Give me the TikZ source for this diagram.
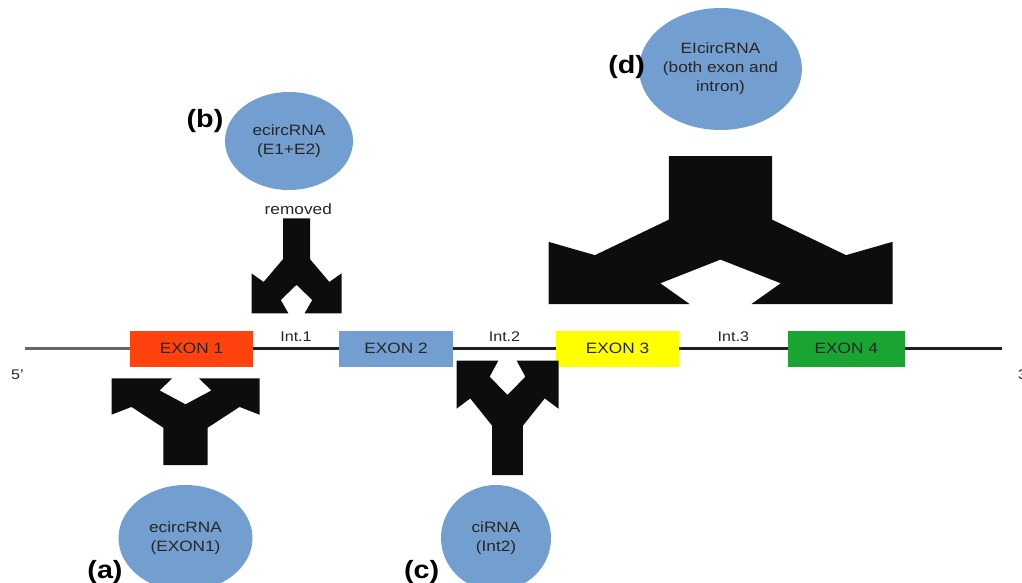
\documentclass[tikz,border=0pt]{standalone}
\usepackage{fontspec}
\setmainfont{Liberation Sans}[FakeStretch=1.15]
\usetikzlibrary{shapes.geometric,positioning}

\definecolor{circblue}{HTML}{729FCF}
\definecolor{exonred}{HTML}{FF420E}
\definecolor{exonyellow}{HTML}{FFFF00}
\definecolor{exongreen}{HTML}{1AA532}
\definecolor{dnagray}{HTML}{666666}

\begin{document}
\begin{tikzpicture}[
    x=1pt, y=-1pt,
    exon node/.style={minimum height=36pt, inner sep=0pt, font=\fontsize{15}{18}\selectfont, text=black!85},
    circ node/.style={ellipse, fill=circblue, inner sep=0pt, align=center, font=\fontsize{15}{19}\selectfont, text=black!85},
    tag node/.style={inner sep=0pt, font=\fontsize{25}{30}\selectfont\bfseries},
    int node/.style={inner sep=0pt, font=\fontsize{14}{16}\selectfont, text=black!85},
    dna edge/.style={line width=3.6pt, draw=black!88},
    ysplit/.pic={
        \fill[black!95] (-1,0) -- (-0.18,0) -- (-0.35,0.14) -- (0,0.30) -- (0.35,0.14) -- (0.18,0) -- (1,0)
            -- (1,0.42) -- (0.73,0.33) -- (0.30,0.57) -- (0.30,1) -- (-0.30,1) -- (-0.30,0.57)
            -- (-0.73,0.33) -- (-1,0.42) -- cycle;
    }
]
\useasboundingbox (0,0) rectangle (1022,583);

% exons on the strand
\foreach \n/\x/\w/\c in {1/191.5/123/exonred, 2/396/114/circblue, 3/617.5/123/exonyellow, 4/846.3/117/exongreen}
    \node[exon node, fill=\c, minimum width=\w pt] (e\n) at (\x,348.5) {EXON \n};

\coordinate (start) at (25,348.5);
\coordinate (stop) at (1001.5,348.5);
\node[int node] (p5) at (17.5,375) {5'};
\node[int node, anchor=west] (p3) at (1018,375) {3'};

% strand and introns
\draw[dna edge, draw=dnagray] (start) -- (e1.west);
\foreach \a/\b in {1/2, 2/3, 3/4} {
    \draw[dna edge] (e\a.east) -- (e\b.west);
    \path (e\a.east) -- (e\b.west) node[int node, midway, above=7pt] (i\a) {Int.\a};
}
\draw[dna edge] (e4.east) -- (stop);

% splicing arrows
\pic[xscale=74, yscale=86.7] at (185.5,378.3) {ysplit};
\pic[xscale=45, yscale=-95] at (296.5,313.3) {ysplit};
\pic[xscale=51, yscale=114.3] at (507.5,360.7) {ysplit};
\pic[xscale=172, yscale=-148] at (720.5,304) {ysplit};
\node[int node, font=\fontsize{15}{18}\selectfont] (rm) at (298.3,208.7) {removed};

% circular RNAs
\node[circ node, minimum width=134pt, minimum height=106pt] (ca) at (185.5,538) {ecircRNA\\(EXON1)};
\node[circ node, minimum width=128pt, minimum height=98pt] (cb) at (289,141) {ecircRNA\\(E1+E2)};
\node[circ node, minimum width=110pt, minimum height=106pt] (cc) at (496,538) {ciRNA\\(Int2)};
\node[circ node, minimum width=144pt, minimum height=122pt] (cd) at (720.5,69) {EIcircRNA\\(both exon and\\intron)};

\node[tag node] (ta) at (105,572) {(a)};
\node[tag node] (tb) at (205,121) {(b)};
\node[tag node] (tc) at (421.7,572) {(c)};
\node[tag node] (td) at (626.7,67.5) {(d)};

\end{tikzpicture}
\end{document}
